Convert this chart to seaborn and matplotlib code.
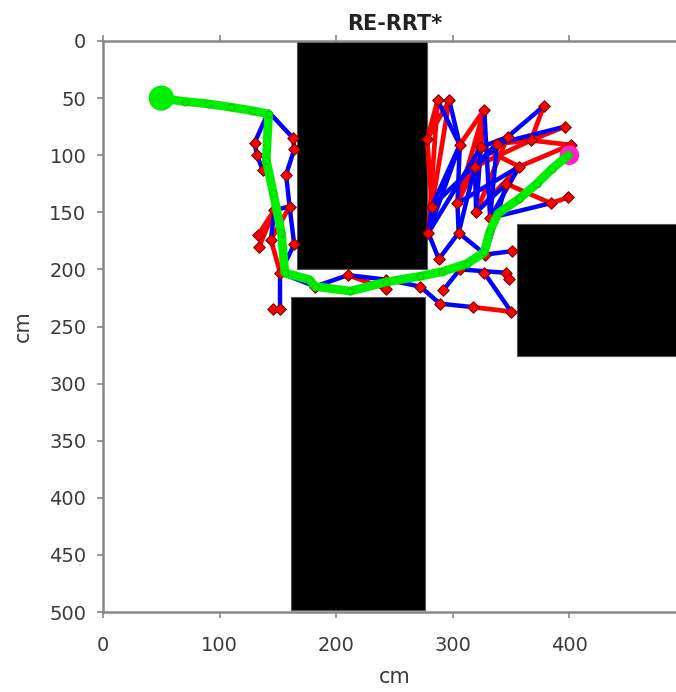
import numpy as np
import pandas as pd
import matplotlib
matplotlib.use("Agg")
import matplotlib.pyplot as plt
from matplotlib.patches import Rectangle
import seaborn as sns

# ---------------- data ----------------
title = "RE-RRT*"
x_ticks = [0, 100, 200, 300, 400]
y_ticks = [0, 50, 100, 150, 200, 250, 300, 350, 400, 450, 500]

# obstacles (cm)
obs_x0 = [166, 161, 355]
obs_x1 = [278, 276, 500]
obs_y0 = [0, 224, 160]
obs_y1 = [200, 498, 276]

# tree nodes (cm)
node_x = [142, 163, 164, 157, 160, 164, 152, 130, 132, 137,
          133, 134, 144, 147, 146, 152, 182, 210, 243, 243,
          272, 289, 292, 317, 350, 278, 287, 297, 327, 378,
          396, 401, 306, 338, 347, 367, 357, 346, 319, 324,
          282, 304, 320, 332, 279, 305, 328, 351, 288, 346,
          399, 384, 306, 348, 327]
node_y = [62, 85, 95, 117, 145, 178, 203, 89, 100, 113,
          170, 180, 174, 148, 235, 235, 215, 205, 217, 209,
          215, 230, 218, 233, 237, 86, 52, 52, 60, 57,
          75, 91, 91, 90, 84, 87, 110, 125, 110, 93,
          145, 142, 150, 155, 168, 168, 187, 184, 191, 203,
          137, 142, 200, 208, 203]

blue_edges = [(0, 1), (1, 2), (2, 3), (3, 4), (4, 5), (5, 6), (0, 7), (7, 8),
              (8, 9), (4, 13), (13, 12), (6, 15), (15, 14),
              (6, 16), (16, 17), (17, 19), (19, 20), (20, 21), (21, 23),
              (22, 52), (54, 24), (52, 49), (46, 47),
              (48, 44), (48, 45), (44, 40), (40, 32), (41, 45), (32, 41),
              (45, 46), (42, 37), (43, 36), (26, 32), (27, 32), (28, 43),
              (29, 34), (34, 39), (38, 42), (30, 33), (43, 51), (39, 44),
              (33, 40), (36, 41), (39, 42), (38, 45), (33, 43), (32, 44),
              (37, 46), (34, 38)]
red_edges = [(13, 10), (13, 11), (12, 6), (17, 18), (19, 18), (23, 24),
             (49, 53), (41, 38), (41, 39), (26, 25), (27, 25), (28, 32),
             (28, 38), (28, 39), (29, 35), (30, 35), (35, 38), (35, 33),
             (36, 39), (33, 38), (31, 36), (51, 50), (37, 51), (25, 40),
             (31, 35), (34, 42), (26, 44), (27, 40), (28, 41), (36, 42),
             (4, 12)]

# final path (cm)
path_x = [50, 70, 90, 110, 128, 142, 140, 146, 153, 156, 177, 182, 212,
          243, 272, 291, 312, 327, 332, 339, 357, 372, 385, 399]
path_y = [50, 53, 55, 58, 61, 64, 104, 133, 168, 203, 209, 215, 219,
          211, 206, 202, 195, 185, 166, 151, 138, 125, 112, 100]
start_xy = (50, 50)
goal_xy = (400, 100)


def edge_frame(edges):
    rows = []
    for k, (i, j) in enumerate(edges):
        rows.append({"edge": k, "x": node_x[i], "y": node_y[i]})
        rows.append({"edge": k, "x": node_x[j], "y": node_y[j]})
    return pd.DataFrame(rows)


# ---------------- plot ----------------
sns.set_style("white")
plt.rcParams["font.family"] = ["DejaVu Sans"]

fig = plt.figure(figsize=(6.76, 6.92), dpi=100)
ax = fig.add_axes([103 / 676, 80 / 692, 583 / 676, 571 / 692])

for x0, x1, y0, y1 in zip(obs_x0, obs_x1, obs_y0, obs_y1):
    ax.add_patch(Rectangle((x0, y0), x1 - x0, y1 - y0, facecolor="black",
                           edgecolor="#555555", lw=0.8, zorder=1))

sns.lineplot(data=edge_frame(red_edges), x="x", y="y", units="edge",
             estimator=None, sort=False, color="#ff0000", lw=3.4, ax=ax,
             zorder=2)
sns.lineplot(data=edge_frame(blue_edges), x="x", y="y", units="edge",
             estimator=None, sort=False, color="#0000ff", lw=3.2, ax=ax,
             zorder=3)

nodes = pd.DataFrame({"x": node_x[1:], "y": node_y[1:]})
sns.scatterplot(data=nodes, x="x", y="y", marker="D", s=34, color="#ff0000",
                edgecolor="#7a0000", linewidth=0.8, ax=ax, zorder=4)

# goal marker
sns.scatterplot(x=[goal_xy[0]], y=[goal_xy[1]], s=200, color="#ff22cc",
                edgecolor="none", ax=ax, zorder=4)

path = pd.DataFrame({"x": path_x, "y": path_y})
sns.lineplot(data=path, x="x", y="y", sort=False, estimator=None,
             color="#00ee00", lw=6.3, marker="o", markersize=5,
             markeredgecolor="#00cc00", ax=ax, zorder=5)
sns.scatterplot(x=[start_xy[0]], y=[start_xy[1]], s=330, color="#00ee00",
                edgecolor="none", ax=ax, zorder=6)

ax.set_xlim(0, 500)
ax.set_ylim(500, 0)
ax.set_xticks(x_ticks)
ax.set_yticks(y_ticks)
ax.set_xticklabels([str(v) for v in x_ticks])
ax.set_yticklabels([str(v) for v in y_ticks])
ax.tick_params(axis="both", direction="out", length=4, width=1.2,
               color="#888888", labelcolor="#3a3a3a", labelsize=14, pad=8)
ax.tick_params(axis="x", top=True, bottom=True, labeltop=False, pad=13)
ax.tick_params(axis="y", left=True, right=False)
for s in ax.spines.values():
    s.set_color("#888888")
    s.set_linewidth(1.8)
ax.spines["right"].set_visible(False)

ax.set_xlabel("cm", fontsize=15, color="#3a3a3a", labelpad=9)
ax.set_ylabel("cm", fontsize=15, color="#3a3a3a", labelpad=12)
ax.set_title(title, fontsize=15, fontweight="bold", color="#222222", pad=8)

fig.savefig("out.png", dpi=100)
